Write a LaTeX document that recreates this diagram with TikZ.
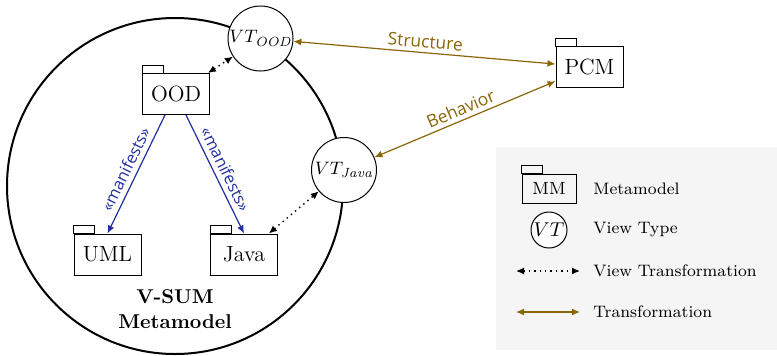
\documentclass[tikz,border=0pt]{standalone}
\usepackage{fontspec}
\newfontfamily\lblfont{Open Sans}
\usetikzlibrary{arrows.meta}
\definecolor{trafogold}{RGB}{139,101,8}
\definecolor{manifblue}{RGB}{31,47,160}

\begin{document}
\begin{tikzpicture}[x=0.5pt, y=-0.5pt,
  pkg/.style={draw, line width=0.5pt, minimum width=33.5pt, minimum height=20.5pt, inner sep=0pt,
    font=\fontsize{11}{13}\selectfont,
    append after command={\pgfextra{\draw[line width=0.5pt] (\tikzlastnode.north west) rectangle ++(10.5pt,4pt);}}},
  vt/.style={circle, draw, fill=white, line width=0.5pt, minimum size=32.5pt, inner sep=0pt, font=\fontsize{9.5}{12}\selectfont},
  vsum/.style={circle, draw, line width=1pt, minimum size=168pt, inner sep=0pt},
  legtext/.style={anchor=west, inner sep=0pt, font=\fontsize{8.3}{10}\selectfont},
  viewtrafo/.style={dotted, line width=0.7pt, {Latex[length=4pt,width=3.5pt]}-{Latex[length=4pt,width=3.5pt]}},
  trafo/.style={draw=trafogold, line width=0.6pt, {Latex[length=4pt,width=3.5pt]}-{Latex[length=4pt,width=3.5pt]}},
  trafolabel/.style={text=trafogold, font=\lblfont\fontsize{8.7}{10}\selectfont, sloped, above, inner sep=2pt},
  manifests/.style={draw=manifblue, line width=0.6pt, -{Latex[length=4pt,width=3.5pt]}},
  maniflabel/.style={text=manifblue, font=\lblfont\fontsize{8.2}{10}\selectfont, sloped, above, inner sep=2.5pt}
]
\useasboundingbox (0,0) rectangle (777,355);

% legend background
\fill[gray!8] (496,147) rectangle (777,350);

% V-SUM
\node[vsum] (vsum) at (175,186) {};
\node[align=center, font=\bfseries\fontsize{10}{12.5}\selectfont] (vsumlabel) at (175,309) {V-SUM\\Metamodel};

% view types
\node[vt] (vtood) at (260.5,38.5) {$VT_{\mathit{OOD}}$};
\node[vt] (vtjava) at (344,170) {$VT_{\mathit{Java}}$};

% metamodels
\node[pkg] (ood) at (176,94) {OOD};
\node[pkg] (uml) at (107.5,254.5) {UML};
\node[pkg] (java) at (244,254.5) {Java};
\node[pkg] (pcm) at (589.5,67) {PCM};

% connections
\draw[manifests] ([xshift=-5.5pt]ood.south) -- (uml.north) node[maniflabel, midway] {«manifests»};
\draw[manifests] ([xshift=5pt]ood.south) -- (java.north) node[maniflabel, midway] {«manifests»};
\draw[viewtrafo] (ood) -- (vtood);
\draw[viewtrafo] (java) -- (vtjava);
\draw[trafo] (vtood) -- (pcm) node[trafolabel, midway] {Structure};
\draw[trafo] (vtjava) -- (pcm) node[trafolabel, midway] {Behavior};

% legend
\node[pkg, minimum width=27pt, minimum height=14.5pt, font=\fontsize{8.8}{10}\selectfont] (legmm) at (549,188.5) {MM};
\node[vt, minimum size=18pt, font=\fontsize{10}{12}\selectfont] (legvt) at (549,230) {$VT$};
\coordinate (legvta) at (516,271);
\coordinate (legvtb) at (580,271);
\coordinate (legtra) at (516,312);
\coordinate (legtrb) at (580,312);
\draw[viewtrafo] (legvta) -- (legvtb);
\draw[trafo] (legtra) -- (legtrb);
\node[legtext] (legmmtext) at (593,188.5) {Metamodel};
\node[legtext] (legvttext) at (593,230) {View Type};
\node[legtext] (legvtrtext) at (593,271) {View Transformation};
\node[legtext] (legtrtext) at (593,312) {Transformation};
\end{tikzpicture}
\end{document}
